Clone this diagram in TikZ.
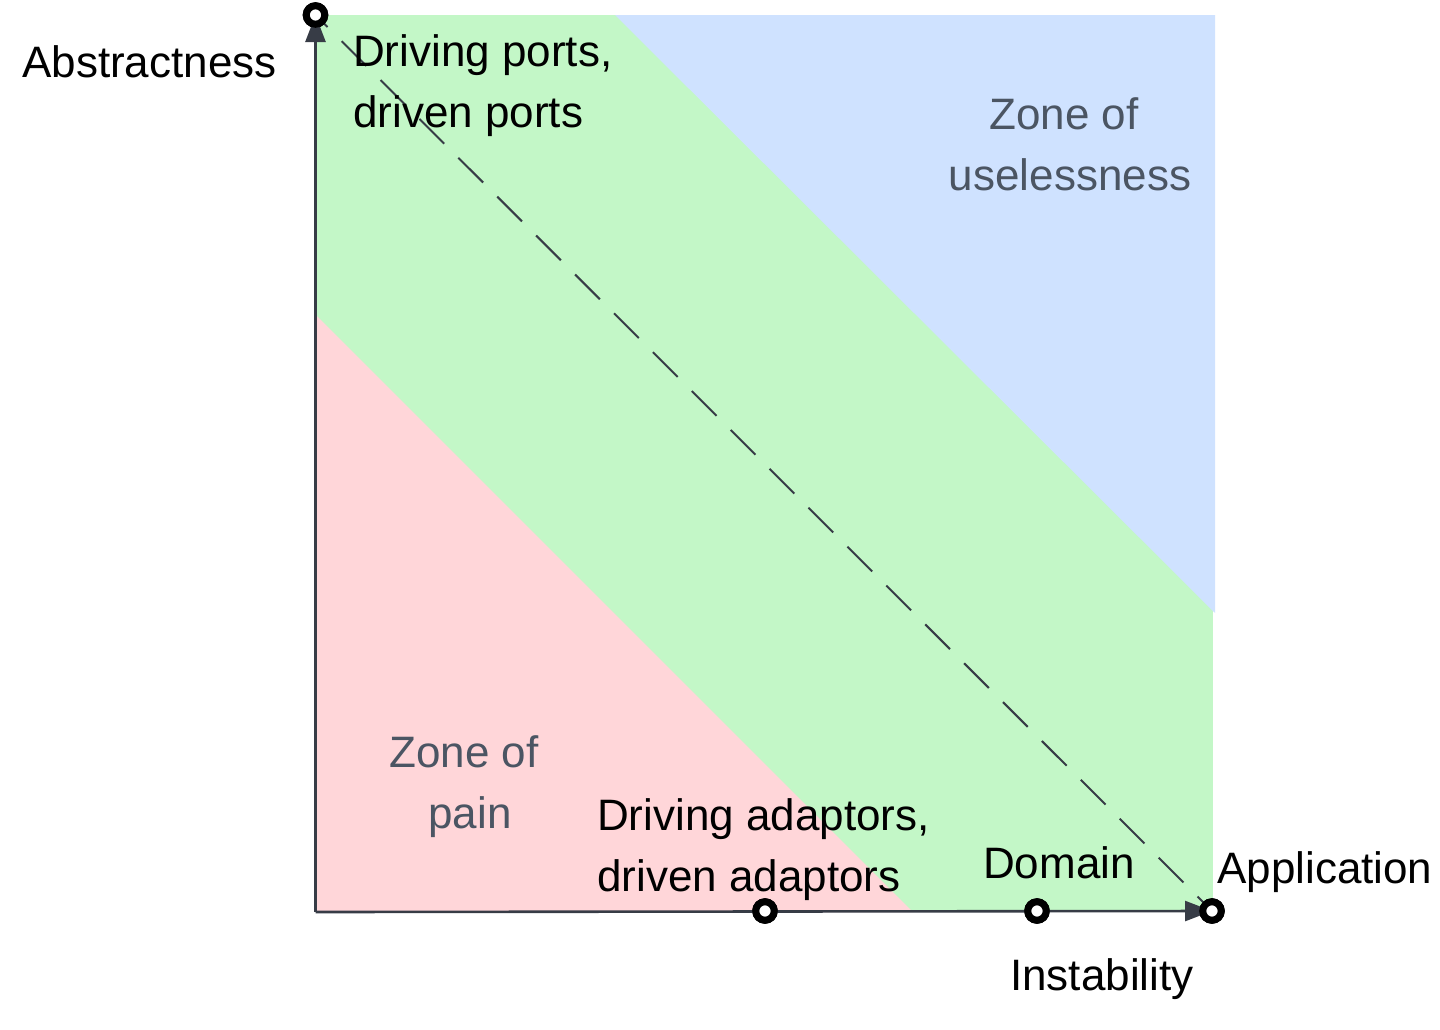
\documentclass[tikz,border=0pt]{standalone}
\usepackage{fontspec}
\setmainfont{Liberation Sans}
\usetikzlibrary{arrows.meta}
\definecolor{zred}{RGB}{255,214,217}
\definecolor{zgreen}{RGB}{195,247,199}
\definecolor{zblue}{RGB}{207,226,255}
\definecolor{axisc}{RGB}{55,60,70}
\definecolor{zonetxt}{RGB}{75,85,99}
\tikzset{
  lbl/.style={inner sep=0pt, font=\fontsize{44}{61}\selectfont, text=black},
  zonelbl/.style={lbl, text=zonetxt, align=center},
  axisline/.style={draw=axisc, line width=2.6pt},
  dashline/.style={draw=axisc, line width=2pt, dash pattern=on 35pt off 20pt, dash phase=18pt},
  marker/.style={circle, draw=black, fill=white, line width=7pt, minimum size=18.5pt, inner sep=0pt}
}
\begin{document}
\begin{tikzpicture}[x=1pt,y=-1pt]
\useasboundingbox (0,0) rectangle (1440,1029);
% zones
\fill[zgreen] (316,15) rectangle (1213,912);
\fill[zred] (316,315) -- (316,912) -- (913,912) -- cycle;
\fill[zblue] (615,15) -- (1215,15) -- (1215,613) -- cycle;
% points
\coordinate (o) at (315.5,912);
\node[marker] (c1) at (315.5,15) {};
\node[marker] (c2) at (765,911) {};
\node[marker] (c3) at (1037,911) {};
\node[marker] (c4) at (1212,911) {};
% dashed main sequence
\draw[dashline] (c1.center) -- (c4.center);
% axes
\draw[axisline, -{Triangle[width=20pt,length=27pt]}] (o) -- (c1.center);
\draw[axisline, -{Triangle[width=20pt,length=27pt]}] (o) -- (c4.center);
% redraw markers on top
\node[marker] at (c1.center) {};
\node[marker] at (c2.center) {};
\node[marker] at (c3.center) {};
\node[marker] at (c4.center) {};
% labels
\node[lbl, anchor=base west] (abs) at (22,77) {Abstractness};
\node[lbl, anchor=base west] (ins) at (1010,990) {Instability};
\node[lbl, anchor=base west, align=left] (ports) at (353,127) {Driving ports,\\driven ports};
\node[lbl, anchor=base west, align=left] (adapt) at (597,891) {Driving adaptors,\\driven adaptors};
\node[lbl, anchor=base west] (dom) at (983,878) {Domain};
\node[lbl, anchor=base west] (app) at (1217,883) {Application};
\node[zonelbl, anchor=base] (useless) at (1070,190) {Zone of\kern12pt\\uselessness};
\node[zonelbl, anchor=base] (pain) at (470,828) {Zone of\kern12pt\\pain};
\end{tikzpicture}
\end{document}
